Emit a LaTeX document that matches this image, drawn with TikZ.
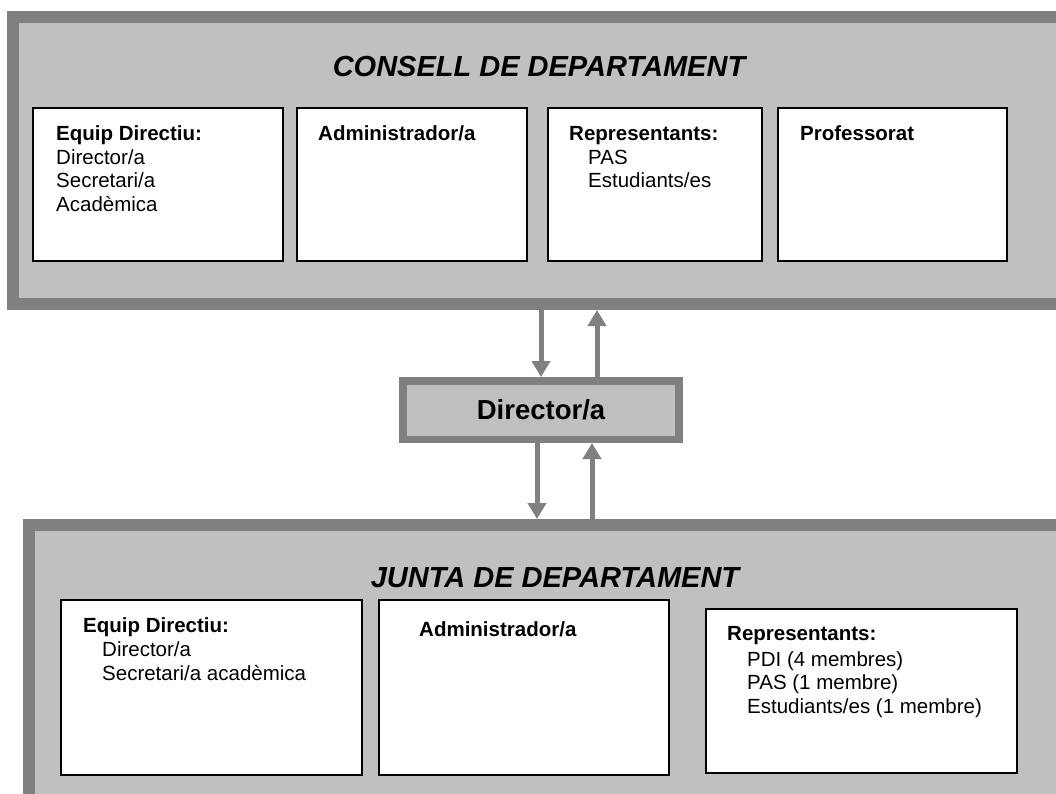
\documentclass[tikz,border=0pt]{standalone}
\usepackage{fontspec}
\setmainfont{Liberation Sans}
\usetikzlibrary{arrows.meta}
\definecolor{dg}{HTML}{808080}
\definecolor{lg}{HTML}{C0C0C0}
\tikzset{
  bigbox/.style={draw=dg, fill=lg, line width=12pt, outer sep=6pt, inner sep=0pt},
  dirbox/.style={draw=dg, fill=lg, line width=7.5pt, outer sep=3.75pt, inner sep=0pt},
  wbox/.style={draw=black, fill=white, line width=1.6pt, inner sep=0pt},
  hdr/.style={anchor=base west, inner sep=0pt, font=\fontsize{20.5}{24}\selectfont\bfseries},
  itm/.style={anchor=base west, inner sep=0pt, font=\fontsize{20.5}{24}\selectfont},
  ttl/.style={inner sep=0pt, font=\fontsize{29}{34}\selectfont\bfseries\itshape},
  arr/.style={draw=dg, line width=5pt, -{Triangle[width=18pt,length=16pt]}}
}
\begin{document}
\begin{tikzpicture}[x=1pt,y=-1pt]
\path[use as bounding box] (0,0) rectangle (1056,794);
\clip (0,0) rectangle (1056,794);
% big boxes
\node[bigbox, minimum width=1067pt, minimum height=287pt] (consell) at (546.5,160.5) {};
\node[bigbox, minimum width=1051pt, minimum height=295pt] (junta) at (554.5,672.5) {};
\node[dirbox, minimum width=276pt, minimum height=58.5pt, font=\fontsize{27.5}{32}\selectfont\bfseries] (director) at (541,410) {Director/a};
% titles
\node[ttl] (tconsell) at (539,67) {CONSELL DE DEPARTAMENT};
\node[ttl] (tjunta) at (555,578) {JUNTA DE DEPARTAMENT};
% top inner boxes
\node[wbox, minimum width=250pt, minimum height=153pt] (c1) at (158,184.5) {};
\node[wbox, minimum width=230pt, minimum height=153pt] (c2) at (412,184.5) {};
\node[wbox, minimum width=214pt, minimum height=153pt] (c3) at (655,184.5) {};
\node[wbox, minimum width=229pt, minimum height=153pt] (c4) at (892.5,184.5) {};
% bottom inner boxes
\node[wbox, minimum width=301pt, minimum height=175pt] (j1) at (211.5,687.5) {};
\node[wbox, minimum width=290pt, minimum height=175pt] (j2) at (524,687.5) {};
\node[wbox, minimum width=311pt, minimum height=164pt] (j3) at (861.5,691) {};
% top texts
\node[hdr] (c1h) at (56,141) {Equip Directiu:};
\node[itm] (c1a) at (56,164.5) {Director/a};
\node[itm] (c1b) at (56,188) {Secretari/a};
\node[itm] (c1c) at (56,211.5) {Acadèmica};
\node[hdr] (c2h) at (318,141) {Administrador/a};
\node[hdr] (c3h) at (569,141) {Representants:};
\node[itm] (c3a) at (588,164.5) {PAS};
\node[itm] (c3b) at (588,188) {Estudiants/es};
\node[hdr] (c4h) at (800,141) {Professorat};
% bottom texts
\node[hdr] (j1h) at (83,632) {Equip Directiu:};
\node[itm] (j1a) at (102,656) {Director/a};
\node[itm] (j1b) at (102,680) {Secretari/a acadèmica};
\node[hdr] (j2h) at (419,636) {Administrador/a};
\node[hdr] (j3h) at (727,640) {Representants:};
\node[itm] (j3a) at (747,666) {PDI (4 membres)};
\node[itm] (j3b) at (747,689.5) {PAS (1 membre)};
\node[itm] (j3c) at (747,713) {Estudiants/es (1 membre)};
% arrows
\coordinate (ax1) at (541,0);
\coordinate (ax2) at (597,0);
\coordinate (ax3) at (537,0);
\coordinate (ax4) at (592,0);
\draw[arr] (consell.south -| ax1) -- (director.north -| ax1);
\draw[arr] (director.north -| ax2) -- (consell.south -| ax2);
\draw[arr] (director.south -| ax3) -- (junta.north -| ax3);
\draw[arr] (junta.north -| ax4) -- (director.south -| ax4);
\end{tikzpicture}
\end{document}
